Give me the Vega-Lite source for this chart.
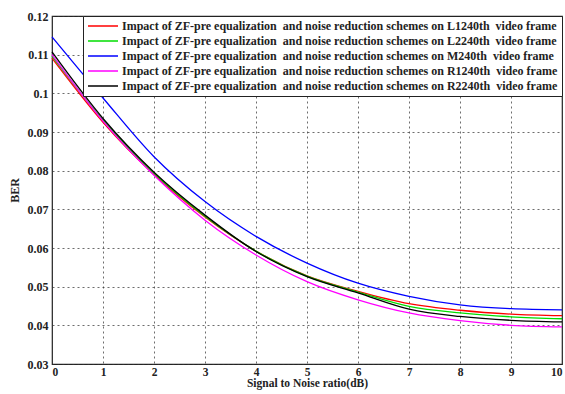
{
  "$schema": "https://vega.github.io/schema/vega-lite/v6.json",
  "width": 510,
  "height": 348,
  "autosize": {"type": "none"},
  "padding": {"left": 52, "top": 16, "right": 3, "bottom": 30},
  "background": "white",
  "config": {
    "view": {"stroke": "#222", "strokeWidth": 1.2},
    "font": "Liberation Serif",
    "axis": {
      "labelFont": "Liberation Serif",
      "labelFontWeight": "bold",
      "labelFontSize": 12,
      "labelColor": "#222",
      "titleFont": "Liberation Serif",
      "titleFontWeight": "bold",
      "titleFontSize": 12,
      "titleColor": "#222",
      "grid": true,
      "gridColor": "#333",
      "gridDash": [2, 3],
      "gridWidth": 0.8,
      "gridOpacity": 0.9,
      "domain": false,
      "ticks": false
    }
  },
  "data": {
    "values": [
      {"snr": 0, "ber": 0.1091, "series": "L1240"},
      {"snr": 1, "ber": 0.0925, "series": "L1240"},
      {"snr": 2, "ber": 0.0790, "series": "L1240"},
      {"snr": 3, "ber": 0.0680, "series": "L1240"},
      {"snr": 4, "ber": 0.0592, "series": "L1240"},
      {"snr": 5, "ber": 0.0528, "series": "L1240"},
      {"snr": 6, "ber": 0.0488, "series": "L1240"},
      {"snr": 7, "ber": 0.0456, "series": "L1240"},
      {"snr": 8, "ber": 0.0439, "series": "L1240"},
      {"snr": 9, "ber": 0.0429, "series": "L1240"},
      {"snr": 10, "ber": 0.0425, "series": "L1240"},
      {"snr": 0, "ber": 0.1096, "series": "L2240"},
      {"snr": 1, "ber": 0.0930, "series": "L2240"},
      {"snr": 2, "ber": 0.0793, "series": "L2240"},
      {"snr": 3, "ber": 0.0682, "series": "L2240"},
      {"snr": 4, "ber": 0.0592, "series": "L2240"},
      {"snr": 5, "ber": 0.0527, "series": "L2240"},
      {"snr": 6, "ber": 0.0486, "series": "L2240"},
      {"snr": 7, "ber": 0.0449, "series": "L2240"},
      {"snr": 8, "ber": 0.0432, "series": "L2240"},
      {"snr": 9, "ber": 0.0422, "series": "L2240"},
      {"snr": 10, "ber": 0.0417, "series": "L2240"},
      {"snr": 0, "ber": 0.1146, "series": "M240"},
      {"snr": 1, "ber": 0.0988, "series": "M240"},
      {"snr": 2, "ber": 0.0836, "series": "M240"},
      {"snr": 3, "ber": 0.0720, "series": "M240"},
      {"snr": 4, "ber": 0.0630, "series": "M240"},
      {"snr": 5, "ber": 0.0561, "series": "M240"},
      {"snr": 6, "ber": 0.0509, "series": "M240"},
      {"snr": 7, "ber": 0.0475, "series": "M240"},
      {"snr": 8, "ber": 0.0453, "series": "M240"},
      {"snr": 9, "ber": 0.0443, "series": "M240"},
      {"snr": 10, "ber": 0.0440, "series": "M240"},
      {"snr": 0, "ber": 0.1100, "series": "R1240"},
      {"snr": 1, "ber": 0.0928, "series": "R1240"},
      {"snr": 2, "ber": 0.0788, "series": "R1240"},
      {"snr": 3, "ber": 0.0672, "series": "R1240"},
      {"snr": 4, "ber": 0.0582, "series": "R1240"},
      {"snr": 5, "ber": 0.0513, "series": "R1240"},
      {"snr": 6, "ber": 0.0466, "series": "R1240"},
      {"snr": 7, "ber": 0.0432, "series": "R1240"},
      {"snr": 8, "ber": 0.0412, "series": "R1240"},
      {"snr": 9, "ber": 0.0400, "series": "R1240"},
      {"snr": 10, "ber": 0.0396, "series": "R1240"},
      {"snr": 0, "ber": 0.1107, "series": "R2240"},
      {"snr": 1, "ber": 0.0935, "series": "R2240"},
      {"snr": 2, "ber": 0.0796, "series": "R2240"},
      {"snr": 3, "ber": 0.0685, "series": "R2240"},
      {"snr": 4, "ber": 0.0591, "series": "R2240"},
      {"snr": 5, "ber": 0.0526, "series": "R2240"},
      {"snr": 6, "ber": 0.0484, "series": "R2240"},
      {"snr": 7, "ber": 0.0442, "series": "R2240"},
      {"snr": 8, "ber": 0.0423, "series": "R2240"},
      {"snr": 9, "ber": 0.0413, "series": "R2240"},
      {"snr": 10, "ber": 0.0409, "series": "R2240"}
    ]
  },
  "mark": {"type": "line", "interpolate": "monotone", "strokeWidth": 1.3},
  "encoding": {
    "x": {
      "field": "snr", "type": "quantitative",
      "scale": {"domain": [0, 10], "nice": false},
      "axis": {"values": [0,1,2,3,4,5,6,7,8,9,10], "title": "Signal to Noise ratio(dB)", "labelFontSize": 11.5, "labelPadding": 2, "titlePadding": 0, "titleFontSize": 11.5}
    },
    "y": {
      "field": "ber", "type": "quantitative",
      "scale": {"domain": [0.03, 0.12], "nice": false, "zero": false},
      "axis": {"values": [0.03,0.04,0.05,0.06,0.07,0.08,0.09,0.1,0.11,0.12], "format": ".2~f", "title": "BER", "labelPadding": 4, "titlePadding": 6}
    },
    "color": {
      "field": "series", "type": "nominal",
      "scale": {"domain": ["L1240", "L2240", "M240", "R1240", "R2240"], "range": ["#ff0000", "#00dd00", "#0000ff", "#ff00ff", "#000000"]},
      "legend": {
        "title": null,
        "orient": "none",
        "legendX": 31,
        "legendY": 0,
        "fillColor": "white",
        "strokeColor": "#222",
        "padding": 4,
        "symbolType": "M-3.75,0H3.75",
        "symbolSize": 64,
        "symbolStrokeWidth": 1.5,
        "symbolOffset": 10,
        "labelOffset": 13,
        "labelFont": "Liberation Serif",
        "labelFontWeight": "bold",
        "labelFontSize": 12,
        "labelColor": "#222",
        "labelLimit": 500,
        "rowPadding": 3,
        "labelExpr": "datum.value == 'L1240' ? 'Impact of ZF-pre equalization \u00a0and noise reduction schemes on L1240th \u00a0video frame' : datum.value == 'L2240' ? '\u00a0 Impact of ZF-pre equalization \u00a0and noise reduction schemes on L2240th \u00a0video frame' : datum.value == 'M240' ? 'Impact of ZF-pre equalization \u00a0and noise reduction schemes on M240th \u00a0video frame' : datum.value == 'R1240' ? '\u00a0 Impact of ZF-pre equalization \u00a0and noise reduction schemes on R1240th \u00a0video frame' : '\u00a0 Impact of ZF-pre equalization \u00a0and noise reduction schemes on R2240th \u00a0video frame'"
      }
    }
  }
}
